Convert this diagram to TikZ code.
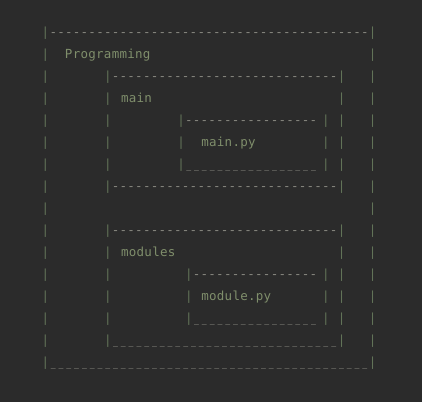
\documentclass[tikz,border=0pt]{standalone}
\usepackage{fontspec}
\newfontfamily\asciifont{DejaVu Sans Mono}
\newfontfamily\asciilabelfont[LetterSpace=2.2]{DejaVu Sans Mono}
\definecolor{bgcol}{HTML}{2B2B2B}
\definecolor{barcol}{HTML}{627358}
\definecolor{dashcol}{HTML}{8A8A82}
\definecolor{labelcol}{HTML}{7F8E6B}

\begin{document}
\begin{tikzpicture}[%
    x=7.79bp,
    y=-22bp,
ascii/.style={inner sep=0pt, outer sep=0pt, yshift=-3.8bp},
bar/.style={ascii, anchor=base, font=\asciifont\fontsize{12.5bp}{14bp}\selectfont, text=barcol},
rulechar/.style={ascii, anchor=base, font=\asciifont\fontsize{12.5bp}{14bp}\selectfont, text=dashcol},
lowchar/.style={rulechar, xscale=0.65},
label/.style={ascii, anchor=base west, font=\asciilabelfont\fontsize{12.5bp}{14bp}\selectfont, text=labelcol}
]

% background
\fill[bgcol] (-45.5bp,33bp) rectangle (376.5bp,-369bp);
\useasboundingbox (-45.5bp,33bp) rectangle (376.5bp,-369bp);

% outer box
\foreach \r in {0,...,15} {
    \node[bar] (outerl\r) at (0,\r) {|};
    \node[bar] (outerr\r) at (42,\r) {|};
}
\foreach \c in {1,...,41} {
    \node[rulechar] (outert\c) at (\c,0) {-};
    \node[lowchar] (outerb\c) at (\c,15) {\_};
}
\node[label] (programming) at (2.5,1) {Programming};

% main box
\foreach \r in {2,...,7} {
    \node[bar] (mainl\r) at (8,\r) {|};
    \node[bar] (mainr\r) at (38,\r) {|};
}
\foreach \c in {9,...,37} {
    \node[rulechar] (maint\c) at (\c,2) {-};
    \node[rulechar] (mainb\c) at (\c,7) {-};
}
\node[label] (main) at (9.7,3) {main};

% main.py box
\foreach \r in {4,5,6} {
    \node[bar] (mainpyl\r) at (17.4,\r) {|};
    \node[bar] (mainpyr\r) at (36,\r) {|};
}
\foreach \c in {0,...,16} {
    \node[rulechar] (mainpyt\c) at (18.4+\c,4) {-};
    \node[lowchar] (mainpyb\c) at (18.4+\c,6) {\_};
}
\node[label] (mainpy) at (20,5) {main.py};

% modules box
\foreach \r in {9,...,14} {
    \node[bar] (modulesl\r) at (8,\r) {|};
    \node[bar] (modulesr\r) at (38,\r) {|};
}
\foreach \c in {9,...,37} {
    \node[rulechar] (modulest\c) at (\c,9) {-};
    \node[lowchar] (modulesb\c) at (\c,14) {\_};
}
\node[label] (modules) at (9.7,10) {modules};

% module.py box
\foreach \r in {11,12,13} {
    \node[bar] (modulepyl\r) at (18.4,\r) {|};
    \node[bar] (modulepyr\r) at (36,\r) {|};
}
\foreach \c in {0,...,15} {
    \node[rulechar] (modulepyt\c) at (19.4+\c,11) {-};
    \node[lowchar] (modulepyb\c) at (19.4+\c,13) {\_};
}
\node[label] (modulepy) at (20,12) {module.py};

\end{tikzpicture}
\end{document}
